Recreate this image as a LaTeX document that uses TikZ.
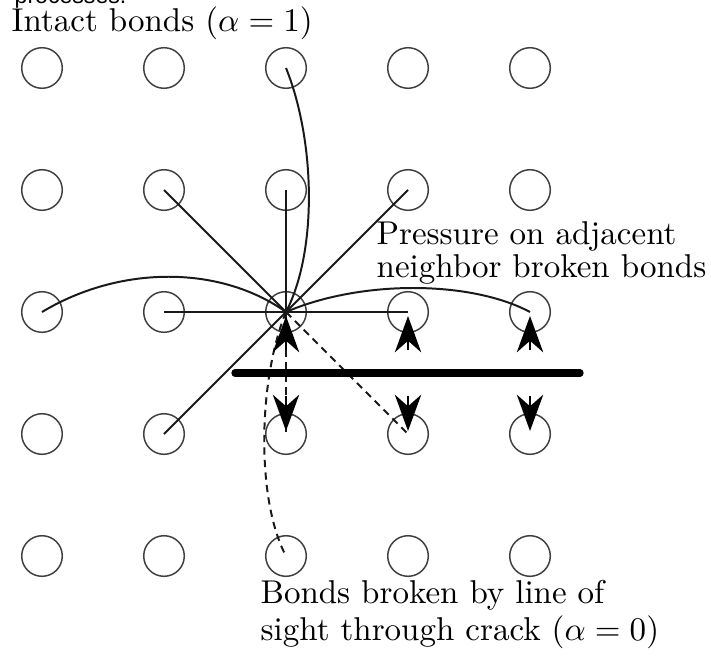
\documentclass[tikz,border=0pt]{standalone}
\usepackage{fontspec}
\newfontfamily\capfont{Liberation Sans}
\usetikzlibrary{arrows.meta}
\begin{document}
\begin{tikzpicture}[x=0.303pt,y=-0.303pt,
  site/.style={circle,draw=black!75,line width=0.45pt,minimum size=12.3pt,inner sep=0pt},
  bond/.style={line width=0.6pt,draw=black!90},
  cutbond/.style={bond,dash pattern=on 2.2pt off 1.6pt},
  push/.style={line width=0.6pt,-{Stealth[length=11pt,width=8pt,inset=3.5pt]}},
  crack/.style={line width=2.2pt,line cap=round},
  lbl/.style={inner sep=0pt,align=left,anchor=base west,font=\fontsize{10}{10}\selectfont}]
\useasboundingbox (0,0) rectangle (711,656);
\foreach \i in {1,...,5}
  \foreach \j in {1,...,5}
    \node[site] (n\i\j) at ({42+122*(\i-1)},{68+122*(\j-1)}) {};
% intact straight bonds
\draw[bond] (n33.center) -- (n22.center);
\draw[bond] (n33.center) -- (n32.center);
\draw[bond] (n33.center) -- (n42.center);
\draw[bond] (n33.center) -- (n23.center);
\draw[bond] (n33.center) -- (n43.center);
\draw[bond] (n33.center) -- (n24.center);
% intact curved bonds
\draw[bond] (n13.center) .. controls (120,265) and (220,265) .. (n33.center);
\draw[bond] (n31.center) .. controls (315,140) and (318,250) .. (n33.center);
\draw[bond] (n33.center) .. controls (360,280) and (470,280) .. (n53.center);
% broken bonds
\draw[cutbond] (n33.center) -- (n44.center);
\draw[cutbond] (n33.center) -- (n34.center);
\draw[cutbond] (n33.center) .. controls (258,380) and (256,500) .. (n35.center);
% crack
\coordinate (cl) at (235,373);
\coordinate (cr) at (580,373);
\draw[crack] (cl) -- (cr);
% pressure arrows
\foreach \i in {3,4,5} {
  \coordinate (ut\i) at ({42+122*(\i-1)},350);
  \coordinate (uh\i) at ({42+122*(\i-1)},316);
  \coordinate (dt\i) at ({42+122*(\i-1)},396);
  \coordinate (dh\i) at ({42+122*(\i-1)},431);
  \draw[push] (ut\i) -- (uh\i);
  \draw[push] (dt\i) -- (dh\i);
}
% labels
\node[anchor=base west,inner sep=0pt,font=\capfont\fontsize{7}{7}\selectfont] (tcut) at (14,4) {processes.};
\node[lbl] (tintact) at (11,32) {Intact bonds ($\alpha=1$)};
\node[lbl] (tpress) at (376,277) {Pressure on adjacent\\neighbor broken bonds};
\node[lbl] (tbroken) at (260,640) {Bonds broken by line of\\[1.2pt]sight through crack ($\alpha=0$)};
\end{tikzpicture}
\end{document}
